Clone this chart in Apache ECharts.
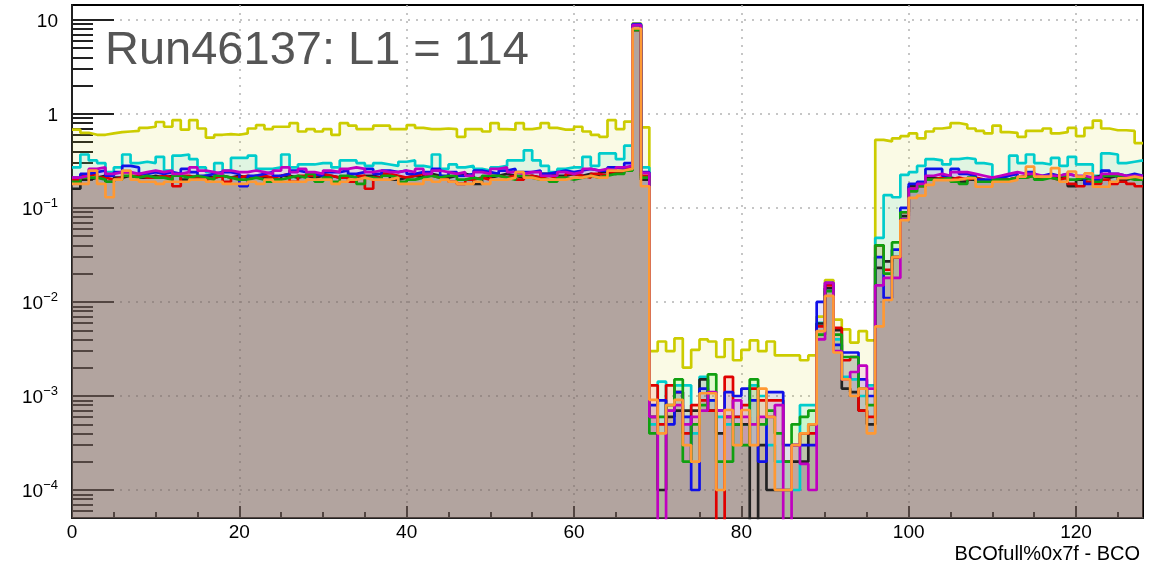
<!DOCTYPE html>
<html>
<head>
<meta charset="utf-8">
<script src="https://cdn.jsdelivr.net/npm/echarts@6/dist/echarts.min.js"></script>
<style>
  html, body { margin: 0; padding: 0; background: #fff; }
  #chart { width: 1158px; height: 568px; }
</style>
</head>
<body>
<div id="chart"></div>
<script>
// BCOfull%0x7f - BCO, one value per bin (0..127), normalised counts
const yellow = [
  0.68,0.63,0.60,0.60,0.62,0.64,0.65,0.66,0.71,0.73,0.82,0.73,0.86,0.68,0.86,0.70,0.56,0.60,0.61,0.60,0.62,0.70,
  0.76,0.69,0.73,0.73,0.80,0.65,0.69,0.65,0.69,0.60,0.80,0.75,0.69,0.69,0.75,0.75,0.69,0.69,0.76,0.71,0.69,0.69,
  0.70,0.69,0.57,0.69,0.69,0.65,0.80,0.69,0.68,0.80,0.69,0.71,0.80,0.71,0.68,0.68,0.73,0.65,0.60,0.57,0.86,0.69,0.83,9.2,0.72,
  0.0030,0.0038,0.0030,0.0041,0.0020,0.0031,0.0040,0.0038,0.0026,0.0040,0.0024,0.0031,0.0039,0.0030,0.0038,0.0027,0.0027,0.0027,0.0024,0.0027,0.0070,0.0171,0.0065,0.0051,0.0037,0.0049,0.0039,
  0.53,0.51,0.55,0.58,0.62,0.55,0.65,0.70,0.72,0.80,0.77,0.70,0.66,0.62,0.75,0.64,0.63,0.57,0.66,0.66,0.70,0.62,0.64,0.71,0.58,0.71,0.85,0.70,0.67,0.67,0.66,0.49
];
const cyan = [
  0.27,0.37,0.32,0.30,0.24,0.27,0.37,0.30,0.31,0.30,0.35,0.25,0.36,0.37,0.33,0.27,0.24,0.30,0.25,0.34,0.34,0.36,
  0.26,0.26,0.27,0.37,0.27,0.29,0.29,0.30,0.30,0.27,0.32,0.32,0.30,0.28,0.30,0.29,0.28,0.31,0.32,0.28,0.27,0.37,
  0.26,0.29,0.27,0.28,0.26,0.25,0.27,0.28,0.32,0.32,0.41,0.32,0.28,0.24,0.26,0.27,0.27,0.35,0.28,0.38,0.38,0.33,0.46,9.0,0.27,
  5e-4,1.42e-3,7e-4,1.3e-3,1.3e-3,4e-4,1.6e-3,9e-4,6e-4,5e-4,6e-4,5e-4,1.3e-3,1.0e-3,3e-4,2e-4,2e-4,1e-4,8e-4,8e-4,6e-3,1.4e-2,4e-3,1.6e-3,1.5e-3,1.0e-3,1.3e-3,
  0.048,0.137,0.13,0.225,0.24,0.28,0.33,0.32,0.29,0.33,0.34,0.33,0.30,0.29,0.21,0.22,0.36,0.30,0.37,0.30,0.29,0.34,0.28,0.35,0.29,0.29,0.22,0.38,0.37,0.30,0.31,0.32
];
const black = [
  0.16,0.20,0.21,0.22,0.19,0.21,0.22,0.21,0.21,0.22,0.21,0.22,0.22,0.20,0.21,0.22,0.21,0.22,0.21,0.22,
  0.21,0.22,0.21,0.20,0.20,0.22,0.21,0.22,0.21,0.22,0.22,0.21,0.22,0.21,0.22,0.22,0.21,0.23,0.20,0.21,
  0.22,0.21,0.23,0.22,0.21,0.22,0.23,0.22,0.18,0.21,0.22,0.23,0.22,0.21,0.22,0.21,0.23,0.22,0.22,0.23,
  0.22,0.23,0.22,0.24,0.23,0.24,0.26,8.8,0.20,
  6e-4,1e-4,6e-4,7e-4,7e-4,7e-4,1.5e-3,7e-4,4e-4,6e-4,5e-4,5e-4,0,3e-4,1e-4,1e-4,1e-4,2e-4,2e-4,5e-4,5.9e-3,0.014,5e-3,1.2e-3,1.1e-3,7e-4,5e-4,
  0.023,0.027,0.030,0.082,0.17,0.18,0.21,0.20,0.21,0.20,0.19,0.20,0.20,0.19,0.21,0.20,0.21,0.22,0.23,0.21,0.22,0.21,0.22,0.17,0.20,0.21,0.22,0.21,0.22,0.20,0.21,0.20
];
const red = [
  0.20,0.22,0.23,0.21,0.20,0.21,0.24,0.22,0.21,0.21,0.22,0.21,0.17,0.22,0.21,0.20,0.21,0.22,0.19,0.21,
  0.22,0.21,0.22,0.21,0.22,0.23,0.19,0.22,0.22,0.23,0.22,0.21,0.21,0.19,0.22,0.16,0.21,0.23,0.22,0.21,
  0.22,0.23,0.22,0.21,0.20,0.19,0.18,0.20,0.21,0.20,0.22,0.21,0.22,0.20,0.22,0.21,0.22,0.21,0.21,0.23,
  0.22,0.21,0.23,0.22,0.24,0.24,0.27,7.8,0.22,
  1.3e-3,5e-4,1.3e-3,1.1e-3,4e-4,8e-4,9e-4,7e-4,0,1.6e-3,6e-4,8e-4,1.2e-3,9e-4,9e-4,9e-4,2e-4,3e-4,4e-4,4e-4,5.5e-3,0.015,5.3e-3,2.4e-3,2.6e-3,7e-4,6e-4,
  0.040,0.022,0.030,0.09,0.16,0.17,0.20,0.21,0.20,0.21,0.20,0.21,0.20,0.19,0.20,0.20,0.21,0.21,0.22,0.21,0.21,0.20,0.21,0.18,0.17,0.19,0.18,0.20,0.18,0.19,0.18,0.17
];
const blue = [
  0.21,0.23,0.24,0.25,0.22,0.24,0.28,0.27,0.23,0.24,0.23,0.24,0.23,0.26,0.24,0.22,0.23,0.24,0.24,0.23,
  0.17,0.22,0.23,0.24,0.22,0.23,0.25,0.24,0.23,0.22,0.24,0.24,0.25,0.23,0.24,0.26,0.23,0.25,0.24,0.25,
  0.23,0.24,0.24,0.26,0.22,0.24,0.22,0.23,0.25,0.24,0.23,0.25,0.26,0.24,0.24,0.25,0.23,0.24,0.25,0.24,
  0.25,0.26,0.25,0.25,0.27,0.26,0.30,9.0,0.24,
  8e-4,9e-4,5e-4,1.1e-3,6e-4,1.0e-4,1.2e-3,9e-4,7e-4,1.1e-3,1.0e-3,1.2e-3,9e-4,2e-4,1.1e-3,1.1e-3,3e-4,3e-4,3e-4,3e-4,0.010,0.016,3.5e-3,2.9e-3,2.9e-3,1.5e-3,1.0e-3,
  0.030,0.011,0.036,0.10,0.18,0.19,0.26,0.26,0.22,0.26,0.23,0.22,0.20,0.20,0.21,0.22,0.23,0.21,0.24,0.22,0.23,0.22,0.23,0.22,0.21,0.18,0.20,0.25,0.23,0.22,0.23,0.22
];
const green = [
  0.19,0.21,0.21,0.20,0.19,0.20,0.22,0.21,0.22,0.21,0.21,0.20,0.22,0.21,0.22,0.21,0.20,0.22,0.21,0.20,
  0.20,0.21,0.20,0.19,0.20,0.21,0.22,0.21,0.23,0.19,0.21,0.19,0.22,0.21,0.18,0.21,0.20,0.22,0.21,0.19,
  0.20,0.21,0.22,0.21,0.22,0.22,0.20,0.21,0.20,0.22,0.22,0.21,0.20,0.22,0.21,0.20,0.20,0.19,0.21,0.20,
  0.21,0.22,0.21,0.22,0.23,0.23,0.25,7.8,0.21,
  4e-4,6e-4,8e-4,1.5e-3,2e-4,5e-4,8e-4,1.7e-3,2e-4,2e-4,5e-4,3e-4,1.5e-3,5e-4,7e-4,4e-4,2e-4,5e-4,6e-4,7e-4,4.5e-3,0.013,4.5e-3,2.6e-3,2.6e-3,1.2e-3,8e-4,
  0.040,0.020,0.043,0.09,0.15,0.17,0.20,0.20,0.21,0.19,0.18,0.21,0.19,0.19,0.20,0.20,0.21,0.21,0.22,0.20,0.21,0.20,0.22,0.20,0.21,0.20,0.19,0.22,0.22,0.21,0.20,0.20
];
const magenta = [
  0.21,0.22,0.26,0.27,0.23,0.24,0.24,0.23,0.24,0.25,0.24,0.25,0.23,0.24,0.27,0.25,0.24,0.23,0.25,0.24,
  0.24,0.25,0.24,0.23,0.25,0.27,0.24,0.26,0.24,0.23,0.25,0.24,0.26,0.27,0.26,0.24,0.25,0.24,0.24,0.25,
  0.24,0.26,0.23,0.25,0.24,0.23,0.24,0.22,0.24,0.23,0.26,0.27,0.24,0.23,0.24,0.24,0.22,0.22,0.24,0.23,
  0.24,0.26,0.25,0.26,0.25,0.27,0.28,8.8,0.236,
  6e-4,0,7e-4,8e-4,5e-4,6e-4,7e-4,1.1e-3,7e-4,6e-4,9e-4,6e-4,5e-4,6e-4,6e-4,8e-4,0,3e-4,1.9e-4,1e-4,4e-3,0.016,3e-3,1.5e-3,1.8e-3,2.1e-3,1.2e-3,
  0.015,0.018,0.018,0.075,0.16,0.18,0.22,0.23,0.22,0.24,0.24,0.23,0.22,0.21,0.22,0.23,0.24,0.23,0.23,0.22,0.22,0.22,0.23,0.22,0.22,0.21,0.21,0.23,0.23,0.22,0.22,0.22
];
const orange = [
  0.18,0.18,0.25,0.18,0.13,0.20,0.25,0.20,0.19,0.19,0.18,0.19,0.19,0.19,0.20,0.20,0.19,0.19,0.18,0.18,0.18,0.19,
  0.18,0.20,0.19,0.19,0.19,0.19,0.20,0.20,0.20,0.18,0.19,0.20,0.21,0.20,0.20,0.20,0.21,0.18,0.18,0.18,0.20,0.19,
  0.20,0.19,0.18,0.18,0.19,0.18,0.20,0.20,0.21,0.24,0.21,0.20,0.20,0.20,0.20,0.21,0.21,0.22,0.21,0.21,0.25,0.25,0.26,8.1,0.17,
  9.1e-4,4.0e-4,8.0e-4,9.1e-4,3.0e-4,2.0e-4,1.07e-3,1.07e-3,1.0e-4,7.1e-4,3.0e-4,7.1e-4,3.0e-4,1.2e-3,6.0e-4,1.0e-4,1.0e-4,3.0e-4,4.0e-4,5.0e-4,4.9e-3,0.0116,2.9e-3,1.5e-3,1.0e-3,1.2e-3,4.0e-4,
  0.0055,0.0105,0.03,0.074,0.128,0.135,0.176,0.198,0.198,0.20,0.207,0.207,0.168,0.168,0.19,0.19,0.198,0.215,0.275,0.215,0.215,0.265,0.19,0.244,0.215,0.233,0.168,0.168,0.19,0.207,0.215,0.207
];

// line colour and translucent fill colour of each histogram, in drawing order
const histos = [
  { name: 'yellow',  color: '#cccc00', fill: '#cccc00', data: yellow },
  { name: 'cyan',    color: '#00cccc', fill: '#00cccc', data: cyan },
  { name: 'black',   color: '#222222', fill: '#000000', data: black },
  { name: 'red',     color: '#e00000', fill: '#ff0000', data: red },
  { name: 'blue',    color: '#1010e8', fill: '#0000ff', data: blue },
  { name: 'green',   color: '#10a010', fill: '#00ff00', data: green },
  { name: 'magenta', color: '#c000c0', fill: '#cc00cc', data: magenta },
  { name: 'orange',  color: '#ff9933', fill: '#ff9933', data: orange }
];

const Y_MIN = 5.04e-5, Y_MAX = 14.4;
const X_MAX = 128;
const yDecades = [1e-4, 1e-3, 1e-2, 1e-1, 1, 10];
const xLabels = [0, 20, 40, 60, 80, 100, 120];
const xMinor = [5,10,15,25,30,35,45,50,55,65,70,75,85,90,95,105,110,115,125];

// minor log ticks 2..9 x 10^n (positions in log10 units)
const yMinor = [];
for (let n = -5; n <= 1; n++) {
  for (let k = 2; k <= 9; k++) {
    const v = k * Math.pow(10, n);
    if (v > Y_MIN && v < Y_MAX) yMinor.push(Math.log10(v));
  }
}

// empty bins go below the axis floor (ROOT draws them down to the frame)
function toSteps(h) {
  const pts = h.map((v, i) => [i, v > 0 ? v : 1e-7]);
  pts.push([X_MAX, h[h.length - 1] > 0 ? h[h.length - 1] : 1e-7]);
  return pts;
}

const chart = echarts.init(document.getElementById('chart'), null, { renderer: 'canvas' });

const dotted = { color: '#b4b4b4', type: [2, 6], width: 1.5 };
const tickLine = { color: '#222', width: 2 };

chart.setOption({
  animation: false,
  backgroundColor: '#ffffff',
  textStyle: { fontFamily: 'Liberation Sans, Arial, sans-serif' },
  title: {
    text: 'Run46137: L1 = 114',
    left: 105,
    top: 28,
    padding: 0,
    textStyle: { fontSize: 47, fontWeight: 'normal', color: '#555555', fontFamily: 'Liberation Sans' }
  },
  graphic: [{
    type: 'text',
    right: 18,
    top: 544,
    style: { text: 'BCOfull%0x7f - BCO', font: '20px "Liberation Sans"', fill: '#000' }
  }],
  grid: {
    left: 72, right: 15, top: 5, bottom: 50,
    show: true, borderColor: '#000', borderWidth: 2,
    outerBoundsMode: 'none'
  },
  xAxis: [{
    type: 'value', min: 0, max: X_MAX, interval: 20,
    axisLine: { show: true, onZero: false, lineStyle: tickLine },
    axisTick: { show: true, inside: true, length: 12, customValues: xLabels, lineStyle: tickLine },
    axisLabel: { customValues: xLabels, margin: 5, fontSize: 19, color: '#000', fontFamily: 'Liberation Sans' },
    splitLine: { show: true, lineStyle: dotted }
  }, {
    type: 'value', min: 0, max: X_MAX, position: 'bottom',
    axisLine: { show: false, onZero: false },
    axisTick: { show: true, inside: true, length: 6, customValues: xMinor, lineStyle: tickLine },
    axisLabel: { show: false },
    splitLine: { show: false }
  }],
  yAxis: [{
    type: 'log', logBase: 10, min: Y_MIN, max: Y_MAX,
    axisLine: { show: true, onZero: false, lineStyle: tickLine },
    axisTick: { show: true, inside: true, length: 42, customValues: yDecades, lineStyle: tickLine },
    axisLabel: {
      customValues: yDecades,
      margin: 14,
      color: '#000',
      fontSize: 18,
      fontFamily: 'Liberation Sans',
      formatter: function (v) {
        const e = Math.round(Math.log10(v));
        if (e === 0) return '{b|1}';
        if (e === 1) return '{b|10}';
        return '{b|10}{s|\u2212' + (-e) + '}';
      },
      rich: {
        b: { fontSize: 19, lineHeight: 22, verticalAlign: 'bottom', fontFamily: 'Liberation Sans', color: '#000' },
        s: { fontSize: 13, lineHeight: 13, verticalAlign: 'top', fontFamily: 'Liberation Sans', color: '#000' }
      }
    },
    splitLine: { show: true, lineStyle: dotted }
  }, {
    type: 'value', min: Math.log10(Y_MIN), max: Math.log10(Y_MAX), position: 'left',
    axisLine: { show: false, onZero: false },
    axisTick: { show: true, inside: true, length: 21, customValues: yMinor, lineStyle: tickLine },
    axisLabel: { show: false },
    splitLine: { show: false }
  }],
  series: histos.map(h => ({
    name: h.name,
    type: 'line',
    step: 'end',
    xAxisIndex: 0,
    yAxisIndex: 0,
    symbol: 'none',
    clip: true,
    data: toSteps(h.data),
    lineStyle: { color: h.color, width: 2.7 },
    areaStyle: { color: h.fill, opacity: 0.1, origin: 'start' }
  }))
});
</script>
</body>
</html>
